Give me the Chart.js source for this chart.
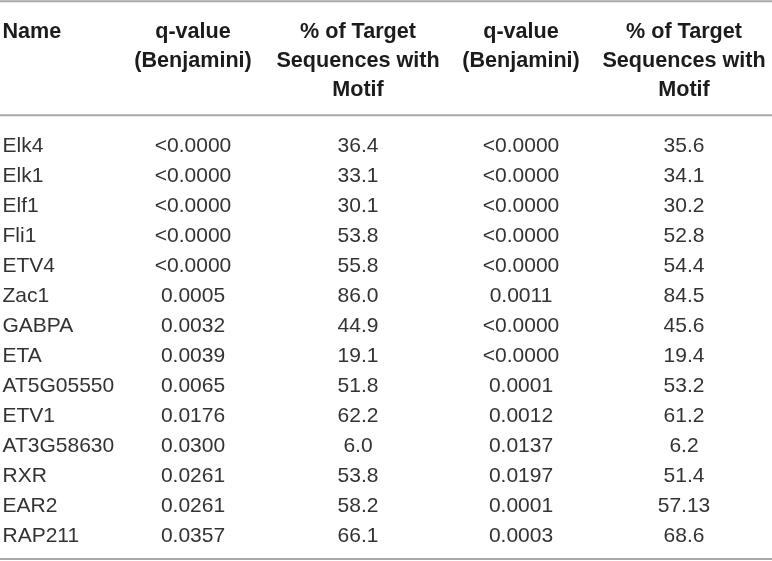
<!DOCTYPE html>
<html>
<head>
<meta charset="utf-8">
<script src="https://cdn.jsdelivr.net/npm/chart.js@4.4.1/dist/chart.umd.min.js"></script>
<style>
html,body{margin:0;padding:0;background:#fff;}
#wrap{width:772px;height:561px;position:relative;}
</style>
</head>
<body>
<div id="wrap"><canvas id="c"></canvas></div>
<script>
// ---- data ----
const names = ["Elk4","Elk1","Elf1","Fli1","ETV4","Zac1","GABPA","ETA","AT5G05550","ETV1","AT3G58630","RXR","EAR2","RAP211"];
const qValue1 = ["<0.0000","<0.0000","<0.0000","<0.0000","<0.0000","0.0005","0.0032","0.0039","0.0065","0.0176","0.0300","0.0261","0.0261","0.0357"];
const pct1 = ["36.4","33.1","30.1","53.8","55.8","86.0","44.9","19.1","51.8","62.2","6.0","53.8","58.2","66.1"];
const qValue2 = ["<0.0000","<0.0000","<0.0000","<0.0000","<0.0000","0.0011","<0.0000","<0.0000","0.0001","0.0012","0.0137","0.0197","0.0001","0.0003"];
const pct2 = ["35.6","34.1","30.2","52.8","54.4","84.5","45.6","19.4","53.2","61.2","6.2","51.4","57.13","68.6"];
const headers = [
  ["Name"],
  ["q-value","(Benjamini)"],
  ["% of Target","Sequences with","Motif"],
  ["q-value","(Benjamini)"],
  ["% of Target","Sequences with","Motif"]
];

// ---- layout (not data) ----
const colAnchor = [2.5, 193, 358, 521, 684];
const colAlign = ["left","center","center","center","center"];
const headerRowPos = [-3.83, -2.84, -1.9];
const rulePos = [-4.79, -0.99, 13.8];
const FONT = "'Liberation Sans', Arial, sans-serif";

const columns = [names, qValue1, pct1, qValue2, pct2];
const datasets = columns.map((col, ci) => ({
  label: 'col' + ci,
  data: col.map((v, ri) => ({x: colAnchor[ci], y: ri, text: v})),
  pointRadius: 0,
  pointHoverRadius: 0,
  showLine: false
}));

const tablePlugin = {
  id: 'tableText',
  afterDatasetsDraw(chart) {
    const ctx = chart.ctx;
    const xs = chart.scales.x, ys = chart.scales.y;
    ctx.save();
    // rules
    ctx.strokeStyle = '#a8a8a8';
    ctx.lineWidth = 2;
    rulePos.forEach(r => {
      const y = ys.getPixelForValue(r);
      ctx.beginPath();
      ctx.moveTo(xs.left, y);
      ctx.lineTo(xs.right, y);
      ctx.stroke();
    });
    // header
    ctx.fillStyle = '#1e1b1c';
    ctx.font = "bold 21.6px " + FONT;
    ctx.textBaseline = 'alphabetic';
    headers.forEach((lines, ci) => {
      ctx.textAlign = colAlign[ci];
      const x = xs.getPixelForValue(colAnchor[ci]);
      lines.forEach((t, li) => {
        const y = ys.getPixelForValue(headerRowPos[li]);
        ctx.fillText(t, x, y + 7.7);
      });
    });
    // body cells from dataset elements
    ctx.fillStyle = '#333333';
    ctx.font = "21px " + FONT;
    chart.data.datasets.forEach((ds, ci) => {
      const meta = chart.getDatasetMeta(ci);
      ctx.textAlign = colAlign[ci];
      meta.data.forEach((el, ri) => {
        ctx.fillText(ds.data[ri].text, el.x, el.y + 7.5);
      });
    });
    ctx.restore();
  }
};

new Chart(document.getElementById('c'), {
  type: 'scatter',
  data: { datasets },
  options: {
    responsive: true,
    maintainAspectRatio: false,
    animation: false,
    devicePixelRatio: 1,
    layout: { padding: 0 },
    plugins: { legend: {display:false}, tooltip: {enabled:false} },
    events: [],
    scales: {
      x: { type: 'linear', min: 0, max: 772, display: false },
      y: { type: 'linear', min: -4.8333, max: -4.8333 + 561/30, reverse: true, display: false }
    }
  },
  plugins: [tablePlugin]
});
</script>
</body>
</html>
